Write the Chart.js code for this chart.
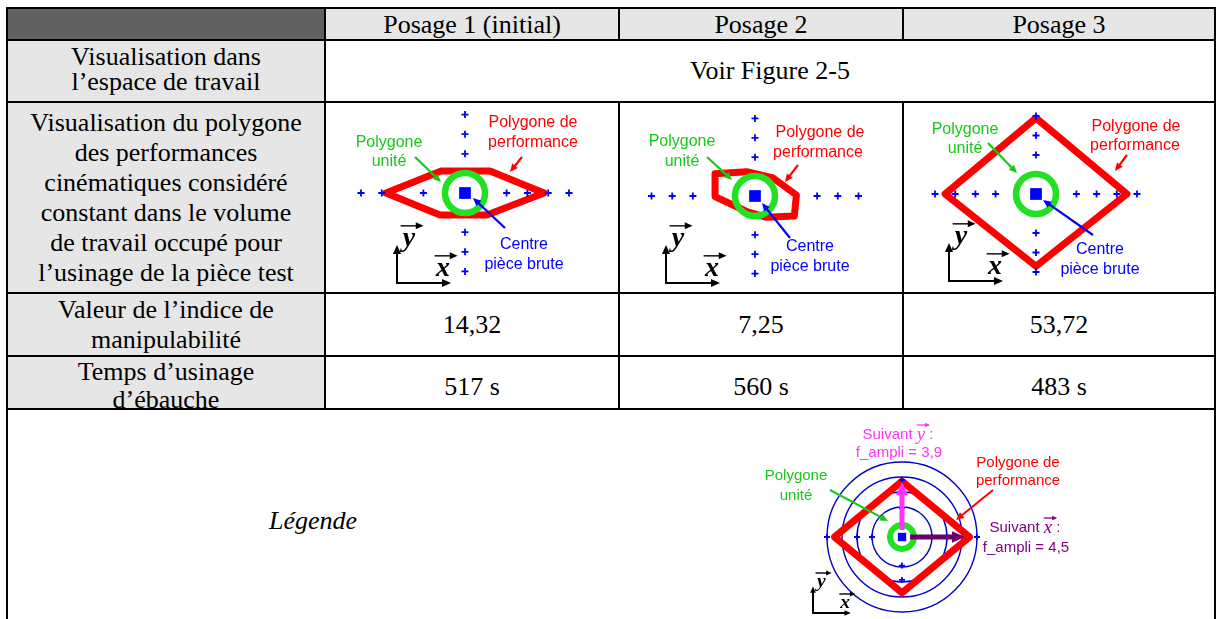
<!DOCTYPE html>
<html>
<head>
<meta charset="utf-8">
<script src="https://cdn.jsdelivr.net/npm/chart.js@4.4.1/dist/chart.umd.min.js"></script>
<style>
  body { margin: 0; background: #fff; overflow: hidden; }
  #page { position: relative; width: 1216px; height: 619px; overflow: hidden;
          font-family: "Liberation Serif", "Times New Roman", serif; font-size: 26px; color: #000; }
  canvas { position: absolute; }
</style>
</head>
<body>
<div id="page"></div>
<script>
// ---- table text ----
const posages = ['Posage 1 (initial)', 'Posage 2', 'Posage 3'];
const rowLabels = [
  ['Visualisation dans', 'l’espace de travail'],
  ['Visualisation du polygone', 'des performances', 'cinématiques considéré', 'constant dans le volume', 'de travail occupé pour', 'l’usinage de la pièce test'],
  ['Valeur de l’indice de', 'manipulabilité'],
  ['Temps d’usinage', 'd’ébauche']
];
const workspaceNote = 'Voir Figure 2-5';
const manipIndex = ['14,32', '7,25', '53,72'];
const roughingTime = ['517 s', '560 s', '483 s'];

// ---- diagrams (units = spacing of the blue + marks) ----
const p1CrossX = [-5, -4, -2, 2, 3, 4, 5];
const p1CrossY = [-4, -3, -2, 2, 3, 4];
const p1Poly = [[-3.8, 0], [-1.15, 1.12], [1.2, 1.12], [3.8, 0], [1.05, -1.12], [-1.2, -1.12]];

const p2CrossX = [-5, -4, -3, 3, 4, 5];
const p2CrossY = [-4, -3, -2, 2, 3, 4];
const p2Poly = [[-1.93, 1.15], [-0.4, 1.25], [0.87, 0.93], [2.0, 0.05], [1.9, -1.03], [0.56, -1.1], [-0.4, -0.8], [-1.93, -0.03]];

const p3CrossX = [-5, -4, -3, -2, 2, 3, 4, 5];
const p3CrossY = [-4, -3, -2, 2, 3, 4];
const p3Poly = [[4.5, 0], [0, 3.9], [-4.5, 0], [0, -3.7]];

const fAmpliX = 4.5;
const fAmpliY = 3.9;
const legendRings = [2, 3, 4, 5];
const legendCrossX = [-5, -3, -2, 2, 3, 5];
const legendCrossY = [-3, -2, 2, 3, 4];
const legendPoly = [[fAmpliX, 0], [0, fAmpliY], [-fAmpliX, 0], [0, -fAmpliY]];

const BLUE = '#0000ff', RED = '#ff0000', GREEN = '#22e022', GREEN_TXT = '#18c818';
const MAGENTA = '#ff33ff', PURPLE = '#800080';

const page = document.getElementById('page');

function box(x, y, w, h, css) {
  const d = document.createElement('div');
  d.style.cssText = 'position:absolute;left:' + x + 'px;top:' + y + 'px;width:' + w + 'px;height:' + h + 'px;' + (css || '');
  page.appendChild(d);
  return d;
}

function textBlock(x0, x1, y0, y1, lines, css) {
  const d = box(x0, y0, x1 - x0, y1 - y0,
    'display:flex;flex-direction:column;align-items:center;justify-content:center;line-height:30px;white-space:nowrap;' + (css || ''));
  lines.forEach(l => {
    const s = document.createElement('div');
    s.textContent = l;
    d.appendChild(s);
  });
}

// table grid
const colX = [7, 325, 619, 903, 1215];
const rowY = [8, 40, 102, 293, 356, 409, 640];

box(colX[0], rowY[0], colX[1] - colX[0], rowY[1] - rowY[0], 'background:#616161');
box(colX[1], rowY[0], colX[4] - colX[1], rowY[1] - rowY[0], 'background:#e6e6e6');
box(colX[0], rowY[1], colX[1] - colX[0], rowY[5] - rowY[1], 'background:#e6e6e6');

// texts
posages.forEach((p, i) => textBlock(colX[i + 1], colX[i + 2], rowY[0], rowY[1] + 1, [p]));
rowLabels.forEach((l, i) => {
  if (i == 0) textBlock(colX[0], colX[1], rowY[1], rowY[2] - 4, l, 'line-height:25px');
  else if (i == 3) textBlock(colX[0], colX[1], rowY[4], rowY[5] + 7, l, 'line-height:28px');
  else textBlock(colX[0], colX[1], rowY[i + 1], rowY[i + 2], l);
});
textBlock(colX[1], colX[4], rowY[1], rowY[2], [workspaceNote]);
manipIndex.forEach((v, i) => textBlock(colX[i + 1], colX[i + 2], rowY[3], rowY[4], [v]));
roughingTime.forEach((v, i) => textBlock(colX[i + 1], colX[i + 2], rowY[4], rowY[5] + 8, [v]));
textBlock(colX[0], colX[2], 500, 542, ['Légende'], 'font-style:italic');

function hline(x0, x1, y) { box(x0 - 1, y - 1, x1 - x0 + 2, 2, 'background:#000'); }
function vline(x, y0, y1) { box(x - 1, y0 - 1, 2, y1 - y0 + 2, 'background:#000'); }
for (let i = 0; i < 6; i++) hline(colX[0], colX[4], rowY[i]);
vline(colX[0], rowY[0], rowY[6]);
vline(colX[4], rowY[0], rowY[6]);
vline(colX[1], rowY[0], rowY[5]);
[colX[2], colX[3]].forEach(x => { vline(x, rowY[0], rowY[1]); vline(x, rowY[2], rowY[5]); });

// ---- drawing helpers for the annotations ----
function arrow(c, x1, y1, x2, y2, color, w, head) {
  const a = Math.atan2(y2 - y1, x2 - x1), ca = Math.cos(a), sa = Math.sin(a);
  c.save();
  c.strokeStyle = color; c.fillStyle = color; c.lineWidth = w;
  c.beginPath(); c.moveTo(x1, y1); c.lineTo(x2 - ca * head * 0.8, y2 - sa * head * 0.8); c.stroke();
  const hw = head * 0.45;
  c.beginPath();
  c.moveTo(x2, y2);
  c.lineTo(x2 - head * ca + hw * sa, y2 - head * sa - hw * ca);
  c.lineTo(x2 - head * ca - hw * sa, y2 - head * sa + hw * ca);
  c.closePath(); c.fill();
  c.restore();
}

function vecLetter(c, ch, x, y, size, color, bold) {
  c.save();
  c.font = 'italic ' + (bold ? 'bold ' : '') + size + 'px "Liberation Serif"';
  c.fillStyle = color; c.textAlign = 'center'; c.textBaseline = 'middle';
  c.fillText(ch, x, y);
  arrow(c, x - 0.3 * size, y - 0.47 * size, x + 0.52 * size, y - 0.47 * size, color, 1.4, 0.28 * size);
  c.restore();
}

function axesIcon(c, x, y, s) {
  arrow(c, x, y + 1, x, y - 38 * s, '#000', 2, 9 * s);
  arrow(c, x - 1, y, x + 54 * s, y, '#000', 2, 9 * s);
  vecLetter(c, 'y', x + 12 * s, y - 44 * s, 28 * s, '#000', true);
  vecLetter(c, 'x', x + 46 * s, y - 14 * s, 28 * s, '#000', true);
}

function vecLabel(c, x, y, pre, ch, post, color, size) {
  const sans = size + 'px "Liberation Sans"', ser = 'italic ' + (size + 4) + 'px "Liberation Serif"';
  c.save();
  c.font = sans; const w1 = c.measureText(pre).width, w3 = c.measureText(post).width;
  c.font = ser; const w2 = c.measureText(ch).width;
  const x0 = x - (w1 + w2 + w3) / 2;
  c.fillStyle = color; c.textBaseline = 'middle'; c.textAlign = 'left';
  c.font = sans; c.fillText(pre, x0, y);
  c.font = ser; c.fillText(ch, x0 + w1, y);
  arrow(c, x0 + w1, y - 10, x0 + w1 + w2 + 5, y - 10, color, 1.3, 5);
  c.font = sans; c.fillText(post, x0 + w1 + w2, y);
  c.restore();
}

function drawNote(c, ox, oy, it) {
  if (it.t === 'label') {
    c.save();
    c.font = it.size + 'px "Liberation Sans"';
    c.fillStyle = it.color; c.textAlign = 'center'; c.textBaseline = 'middle';
    c.fillText(it.text, ox + it.at[0], oy + it.at[1]);
    c.restore();
  } else if (it.t === 'arrow') {
    arrow(c, ox + it.from[0], oy + it.from[1], ox + it.to[0], oy + it.to[1], it.color, it.w || 2, it.head || 9);
  } else if (it.t === 'axes') {
    axesIcon(c, ox + it.at[0], oy + it.at[1], it.s || 1);
  } else if (it.t === 'vec') {
    vecLabel(c, ox + it.at[0], oy + it.at[1], it.pre, it.ch, it.post, it.color, it.size);
  }
}

function notesPlugin(items) {
  return {
    id: 'notes',
    afterDatasetsDraw(chart) {
      const ox = chart.scales.x.getPixelForValue(0);
      const oy = chart.scales.y.getPixelForValue(0);
      items.forEach(it => drawNote(chart.ctx, ox, oy, it));
    }
  };
}

function standardNotes(size, perf, unit, centre, axesAt) {
  return [
    { t: 'label', text: 'Polygone de', at: perf[0], color: RED, size },
    { t: 'label', text: 'performance', at: perf[1], color: RED, size },
    { t: 'arrow', from: perf[2], to: perf[3], color: RED, w: 2.2, head: 8 },
    { t: 'label', text: 'Polygone', at: unit[0], color: GREEN_TXT, size },
    { t: 'label', text: 'unité', at: unit[1], color: GREEN_TXT, size },
    { t: 'arrow', from: unit[2], to: unit[3], color: GREEN_TXT, w: 2.2, head: 8 },
    { t: 'label', text: 'Centre', at: centre[0], color: BLUE, size },
    { t: 'label', text: 'pièce brute', at: centre[1], color: BLUE, size },
    { t: 'arrow', from: centre[2], to: centre[3], color: BLUE, w: 2.2, head: 8 },
    { t: 'axes', at: axesAt, s: 1 }
  ];
}

function diagram(d) {
  const cv = document.createElement('canvas');
  cv.width = d.hw * 2; cv.height = d.hh * 2;
  cv.style.left = (d.cx - d.hw) + 'px';
  cv.style.top = (d.cy - d.hh) + 'px';
  page.appendChild(cv);

  const crosses = d.crossX.map(x => ({ x, y: 0 })).concat(d.crossY.map(y => ({ x: 0, y })));
  const poly = d.poly.concat([d.poly[0]]).map(p => ({ x: p[0], y: p[1] }));
  const datasets = [];
  if (d.rings) {
    datasets.push({
      data: d.rings.map(r => ({ x: 0, y: 0, r })),
      pointStyle: 'circle',
      pointRadius: ctx => ctx.chart.scales.x.getPixelForValue(ctx.raw.r) - ctx.chart.scales.x.getPixelForValue(0),
      pointBorderWidth: 1.4, pointBorderColor: '#0000cc', pointBackgroundColor: 'rgba(0,0,0,0)',
      clip: false, order: 6
    });
  }
  datasets.push({
    data: poly, showLine: true, borderColor: RED, borderWidth: d.polyW,
    borderJoinStyle: 'round', borderCapStyle: 'round', pointRadius: 0, tension: 0, clip: false, order: 5
  });
  datasets.push({
    data: crosses, pointStyle: 'cross', pointRadius: d.crossR, pointBorderWidth: 1.8,
    pointBorderColor: BLUE, clip: false, order: 4
  });
  datasets.push({
    data: [{ x: 0, y: 0 }], pointStyle: 'circle', pointRadius: d.ringR, pointBorderWidth: d.ringW,
    pointBorderColor: GREEN, pointBackgroundColor: 'rgba(0,0,0,0)', clip: false, order: 3
  });
  datasets.push({
    data: [{ x: 0, y: 0 }], pointStyle: 'rect', pointRadius: d.sqR, pointBorderWidth: 0,
    pointBackgroundColor: BLUE, clip: false, order: 2
  });

  new Chart(cv, {
    type: 'scatter',
    data: { datasets },
    options: {
      responsive: false, animation: false, events: [],
      layout: { padding: 0, autoPadding: false },
      plugins: { legend: { display: false }, tooltip: { enabled: false } },
      scales: {
        x: { type: 'linear', display: false, min: -d.hw / d.ux, max: d.hw / d.ux },
        y: { type: 'linear', display: false, min: -d.hh / d.uy, max: d.hh / d.uy }
      }
    },
    plugins: [notesPlugin(d.notes)]
  });
}

diagram({
  cx: 465, cy: 193, hw: 140, hh: 96, ux: 20.8, uy: 19.6,
  crossX: p1CrossX, crossY: p1CrossY, poly: p1Poly, polyW: 7, crossR: 3.5,
  ringR: 20, ringW: 6.5, sqR: 8.3,
  notes: standardNotes(16,
    [[68, -70], [68, -50], [57, -36], [45, -21]],
    [[-76, -50], [-76, -31], [-50, -36], [-24, -11]],
    [[59, 52], [59, 72], [40, 35], [8, 5]],
    [-68, 90])
});

diagram({
  cx: 755, cy: 196, hw: 140, hh: 96, ux: 20.7, uy: 19.4,
  crossX: p2CrossX, crossY: p2CrossY, poly: p2Poly, polyW: 7, crossR: 3.5,
  ringR: 20, ringW: 6.5, sqR: 8.3,
  notes: standardNotes(16,
    [[65, -63], [63, -43], [43, -31], [30, -14]],
    [[-73, -54], [-73, -34], [-48, -39], [-23, -16]],
    [[55, 51], [55, 71], [35, 42], [7, 7]],
    [-89, 87])
});

diagram({
  cx: 1036, cy: 194, hw: 175, hh: 96, ux: 20.2, uy: 19.5,
  crossX: p3CrossX, crossY: p3CrossY, poly: p3Poly, polyW: 7, crossR: 3.5,
  ringR: 20, ringW: 6.5, sqR: 8.3,
  notes: standardNotes(16,
    [[100, -67], [99, -48], [91, -39], [79, -23]],
    [[-71, -64], [-71, -45], [-48, -51], [-19, -21]],
    [[64, 56], [64, 76], [57, 41], [7, 6]],
    [-87, 87])
});

diagram({
  cx: 902, cy: 537, hw: 190, hh: 118, ux: 15, uy: 14.3,
  crossX: legendCrossX, crossY: legendCrossY, poly: legendPoly, rings: legendRings,
  polyW: 7, crossR: 3, ringR: 12, ringW: 6, sqR: 5.9,
  notes: [
    { t: 'arrow', from: [0, -7], to: [0, -55], color: MAGENTA, w: 5, head: 13 },
    { t: 'arrow', from: [8, 0], to: [63, 0], color: '#6a006a', w: 5, head: 13 },
    { t: 'vec', pre: 'Suivant ', ch: 'y', post: ' :', at: [-4, -102], color: MAGENTA, size: 15 },
    { t: 'label', text: 'f_ampli = 3,9', at: [-3, -84], color: MAGENTA, size: 15 },
    { t: 'label', text: 'Polygone', at: [-106, -61], color: GREEN_TXT, size: 15 },
    { t: 'label', text: 'unité', at: [-106, -41], color: GREEN_TXT, size: 15 },
    { t: 'arrow', from: [-72, -47], to: [-14, -16], color: GREEN_TXT, w: 2, head: 8 },
    { t: 'label', text: 'Polygone de', at: [116, -74], color: RED, size: 15 },
    { t: 'label', text: 'performance', at: [116, -56], color: RED, size: 15 },
    { t: 'arrow', from: [91, -47], to: [54, -17], color: RED, w: 2, head: 8 },
    { t: 'vec', pre: 'Suivant ', ch: 'x', post: ' :', at: [123, -9], color: PURPLE, size: 15 },
    { t: 'label', text: 'f_ampli = 4,5', at: [124, 11], color: PURPLE, size: 15 },
    { t: 'axes', at: [-89, 76], s: 0.7 }
  ]
});
</script>
</body>
</html>
